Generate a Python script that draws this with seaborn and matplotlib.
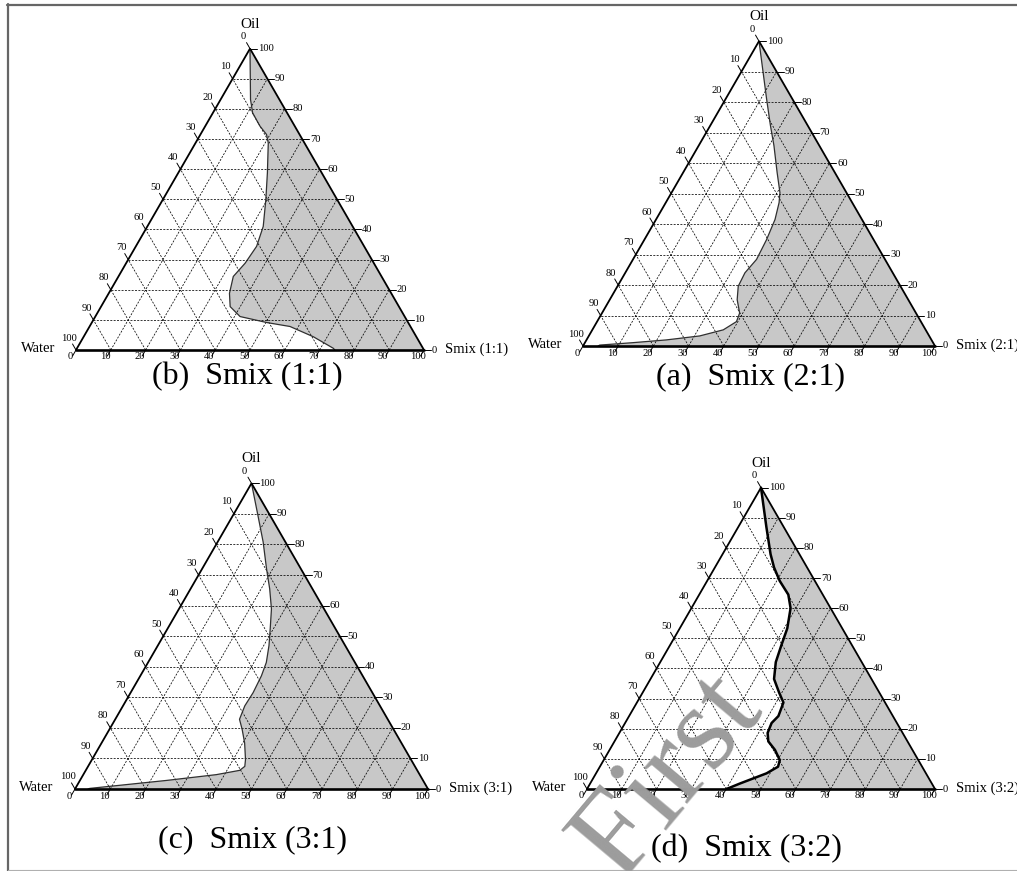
import numpy as np
import pandas as pd
import matplotlib
matplotlib.use("Agg")
import matplotlib.pyplot as plt
from matplotlib.lines import Line2D
import seaborn as sns

# Phase-boundary points of each pseudo-ternary diagram, as (Smix %, Oil %).
# Water % is the remainder: 100 - Smix - Oil.
smix_11 = [0, 8.6, 11.4, 15.7, 19.0, 20.9, 25.6, 29.6, 33.3, 34.7, 34.2, 33.0,
           34.7, 37.1, 41.6, 50.3, 57.6, 66.0, 73.6, 74.4]
oil_11 = [100, 83.1, 78.7, 74.3, 71.5, 68.7, 58.8, 49.9, 41.0, 34.4, 28.8, 24.4,
          18.8, 14.4, 11.1, 9.1, 7.8, 4.4, 0.6, 0]

smix_21 = [0, 6.2, 11.6, 17.1, 21.4, 26.7, 30.8, 32.2, 33.8, 34.7, 35.1, 34.0,
           34.3, 36.2, 39.1, 39.6, 37.2, 31.5, 22.7, 13.7, 4.6, 4.3]
oil_21 = [100, 89.9, 81.1, 72.3, 65.7, 56.9, 50.3, 47.0, 41.5, 34.9, 28.4, 24.0,
          19.6, 15.2, 10.8, 8.0, 5.3, 3.3, 2.0, 1.1, 0.3, 0]

smix_31 = [0, 7.0, 12.9, 18.2, 22.4, 26.2, 29.1, 31.5, 33.5, 34.3, 34.7, 34.5,
           35.2, 37.6, 40.5, 43.5, 44.4, 43.6, 37.7, 24.5, 11.2, 4.1, 3.7]
oil_31 = [100, 89.6, 80.8, 72.1, 65.5, 58.9, 52.4, 46.9, 41.4, 37.0, 31.5, 27.2,
          22.8, 19.5, 15.1, 9.6, 7.4, 6.1, 4.7, 2.8, 1.1, 0.2, 0]

smix_32 = [0, 8.1, 13.8, 17.0, 20.9, 25.6, 28.5, 30.9, 32.0, 33.2, 35.5, 39.2,
           42.1, 42.9, 42.1, 42.6, 44.2, 47.5, 50.6, 51.2, 49.0, 43.0, 40.1]
oil_32 = [100, 86.9, 77.9, 73.5, 69.0, 64.5, 60.0, 53.3, 47.7, 42.1, 36.5, 32.0,
          28.7, 24.2, 21.9, 18.6, 15.8, 13.0, 9.6, 7.4, 5.2, 1.8, 0]

ticks = list(range(0, 101, 10))
grid_levels = list(range(10, 100, 10))

panel_letters = ["(b)", "(a)", "(c)", "(d)"]
smix_ratios = ["1:1", "2:1", "3:1", "3:2"]

sns.set_theme(style="white")
plt.rcParams["font.family"] = ["Liberation Serif", "DejaVu Serif"]
plt.rcParams["text.color"] = "black"

W, HF = 1017, 871
fig = plt.figure(figsize=(W / 100, HF / 100), dpi=100)
fig.patch.set_facecolor("white")

H = np.sqrt(3) / 2
FILL = "#c8c8c8"


def to_xy(smix, oil):
    smix = np.asarray(smix, float)
    oil = np.asarray(oil, float)
    return smix + oil / 2, oil * H


def panel_axes(vx, vy, sc):
    """Axes whose data units put the Water vertex at pixel (vx, vy)."""
    x0, x1, y0, y1 = -25, 125, -10, 100
    left = vx + x0 * sc
    bottom = HF - (vy - y0 * sc)
    ax = fig.add_axes([left / W, bottom / HF, (x1 - x0) * sc / W, (y1 - y0) * sc / HF])
    ax.set_xlim(x0, x1)
    ax.set_ylim(y0, y1)
    ax.axis("off")
    return ax


def draw_panel(ax, smix, oil, ratio, curve_color, curve_lw):
    # single-phase (shaded) region: boundary curve, base, right edge
    cx, cy = to_xy(smix, oil)
    ax.fill(np.r_[cx, 100], np.r_[cy, 0], color=FILL, lw=0, zorder=1)

    # dashed composition grid
    dash = dict(color="black", lw=0.55, ls=(0, (2.6, 1.8)), zorder=2)
    for k in grid_levels:
        ax.plot([k / 2, 100 - k / 2], [k * H, k * H], **dash)               # oil
        ax.plot([k, k + (100 - k) / 2], [0, (100 - k) * H], **dash)         # smix
        ax.plot([100 - k, (100 - k) / 2], [0, (100 - k) * H], **dash)       # water

    # boundary curve
    df = pd.DataFrame({"x": cx, "y": cy})
    sns.lineplot(data=df, x="x", y="y", sort=False, estimator=None, ax=ax,
                 color=curve_color, lw=curve_lw, zorder=4)
    ax.set_xlabel("")
    ax.set_ylabel("")

    # triangle outline
    ax.plot([0, 50, 100], [0, 100 * H, 0], color="black", lw=1.3, zorder=5,
            solid_joinstyle="miter")
    ax.plot([0, 100], [0, 0], color="black", lw=1.9, zorder=5)

    tk = dict(color="black", lw=0.7, zorder=5, clip_on=False)
    fs = 7.6
    lab = dict(fontsize=fs, ha="center", va="center", clip_on=False)
    L = 2.0
    for v in ticks:
        # bottom axis: Smix
        ax.plot([v, v - 0.5 * L], [0, -H * L], **tk)
        ax.text(v - 1.7, -2.0, str(v), **lab)
        # left edge: Water
        px, py = (100 - v) / 2, (100 - v) * H
        ax.plot([px, px - 0.5 * L], [py, py + H * L], **tk)
        ax.text(px - 2.0, py + 3.4, str(v), **lab)
        # right edge: Oil
        qx, qy = 100 - v / 2, v * H
        ax.plot([qx, qx + L], [qy, qy], **tk)
        ax.text(qx + 2.2, qy, str(v), fontsize=fs, ha="left", va="center",
                clip_on=False)

    ax.text(50, 100 * H + 7.0, "Oil", fontsize=11, ha="center", va="center")
    ax.text(-6.0, 0.3, "Water", fontsize=10.5, ha="right", va="center")
    ax.text(106.0, 0.3, f"Smix ({ratio})", fontsize=10.5, ha="left", va="center")


layout = [
    # (water-vertex x, y in pixels, pixels per unit, caption centre x, y)
    (76, 350, 3.48, 247, 377),
    (583, 346, 3.52, 750, 377),
    (75, 789, 3.53, 252, 840),
    (587, 789, 3.48, 746, 849),
]
curves = [(smix_11, oil_11), (smix_21, oil_21), (smix_31, oil_31), (smix_32, oil_32)]
styles = [("#303030", 0.9), ("#303030", 0.9), ("#303030", 0.9), ("black", 1.8)]

for (vx, vy, sc, capx, capy), (s, o), letter, ratio, (cc, clw) in zip(
        layout, curves, panel_letters, smix_ratios, styles):
    ax = panel_axes(vx, vy, sc)
    draw_panel(ax, s, o, ratio, cc, clw)
    fig.text(capx / W, 1 - capy / HF, f"{letter}  Smix ({ratio})", fontsize=23,
             ha="center", va="center", color="black")

# page frame
fig.add_artist(Line2D([7 / W, 1], [1 - 5 / HF, 1 - 5 / HF], transform=fig.transFigure,
                      color="#666666", lw=1.6))
fig.add_artist(Line2D([8 / W, 8 / W], [0, 1 - 4 / HF], transform=fig.transFigure,
                      color="#666666", lw=1.6))
fig.add_artist(Line2D([8 / W, 1], [1 / HF, 1 / HF], transform=fig.transFigure,
                      color="#b0b0b0", lw=0.8))

# publisher stamp across the lower-right panel
fig.text(765 / W, 1 - 712 / HF, "Online First", fontsize=88, color="#9c9c9c",
         rotation=50, rotation_mode="anchor", ha="right", va="baseline",
         zorder=10)

fig.savefig("out.png", dpi=100)
